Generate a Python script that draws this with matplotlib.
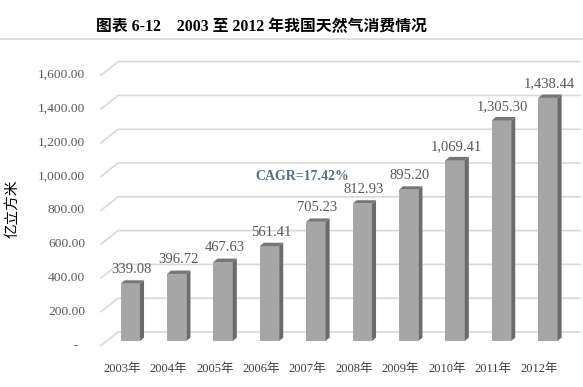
import matplotlib
matplotlib.use('Agg')
import matplotlib.pyplot as plt

plt.rcParams['font.family'] = ['Liberation Serif', 'Noto Sans CJK SC', 'DejaVu Sans']

# data
years = ['2003年', '2004年', '2005年', '2006年', '2007年',
         '2008年', '2009年', '2010年', '2011年', '2012年']
values = [339.08, 396.72, 467.63, 561.41, 705.23,
          812.93, 895.20, 1069.41, 1305.30, 1438.44]
yticks = [0, 200, 400, 600, 800, 1000, 1200, 1400, 1600]
ytick_labels = ['-', '200.00', '400.00', '600.00', '800.00', '1,000.00',
                '1,200.00', '1,400.00', '1,600.00']
title = '图表 6-12    2003 至 2012 年我国天然气消费情况'
ylabel = '亿立方米'
cagr = 'CAGR=17.42%'

fig = plt.figure(figsize=(5.83, 3.87), dpi=100)
ax = fig.add_axes([0.1837, 0.1189, 0.7959, 0.6987])
ax.set_xlim(-0.5, 9.5)
ax.set_ylim(0, 1600)
ax.axis('off')

# pseudo 3d geometry (data units)
bw = 0.416          # front face width
dx, dy = 0.088, 20  # bar depth offset
wall_front_x, wall_back_x, wall_right = -0.631, -0.265, 9.69
front_dy, back_dy = -27, 53

front_col = '#a6a6a6'
side_col = '#6b6b6b'
top_col = '#767676'
grid_col = '#d9d9d9'

# gridlines on back wall + left wall diagonals
for v in yticks:
    ax.plot([wall_front_x, wall_back_x, wall_right],
            [v + front_dy, v + back_dy, v + back_dy],
            color=grid_col, lw=1.2, clip_on=False, zorder=1)

# y tick labels
for v, lab in zip(yticks, ytick_labels):
    xpos = -0.976 if lab != '-' else -1.13
    ax.text(xpos, v + front_dy, lab, ha='right', va='center',
            fontsize=9.7, color='#595959', clip_on=False)

# bars
xs = list(range(len(values)))
ax.bar(xs, values, width=bw, color=front_col, zorder=3, linewidth=0)
for x, h in zip(xs, values):
    l, r = x - bw / 2, x + bw / 2
    ax.fill([r, r, r + dx, r + dx], [0, h, h + dy, dy],
            color=side_col, zorder=3, lw=0)
    ax.fill([l, r, r + dx, l + dx], [h, h, h + dy, h + dy],
            color=top_col, zorder=3, lw=0)
    lab = '{:,.2f}'.format(h)
    ax.text(x + 0.03, h + 83, lab, ha='center', va='center',
            fontsize=10.5, color='#595959', zorder=4, clip_on=False)

# x labels
for x, lab in zip(xs, years):
    ax.text(x - 0.18, -166, lab, ha='center', va='center',
            fontsize=9, color='#404040', clip_on=False)

ax.text(3.7, 976, cagr, ha='center', va='center', fontsize=10,
        fontweight='bold', color='#5a6d8c', zorder=4)

# title and rule
fig.text(261 / 583, 1 - 27 / 387, title, ha='center', va='center',
         fontsize=11.4, fontweight='bold', color='#000000')
fig.add_artist(plt.Line2D([0, 1], [1 - 39 / 387, 1 - 39 / 387],
                          color='#d9d9d9', lw=1.2))

fig.text(12.5 / 583, 1 - 209 / 387, ylabel, rotation=90, ha='center',
         va='center', fontsize=10.5, color='#000000',
         family=['Noto Sans CJK SC', 'DejaVu Sans'])

fig.savefig('out.png', dpi=100)
